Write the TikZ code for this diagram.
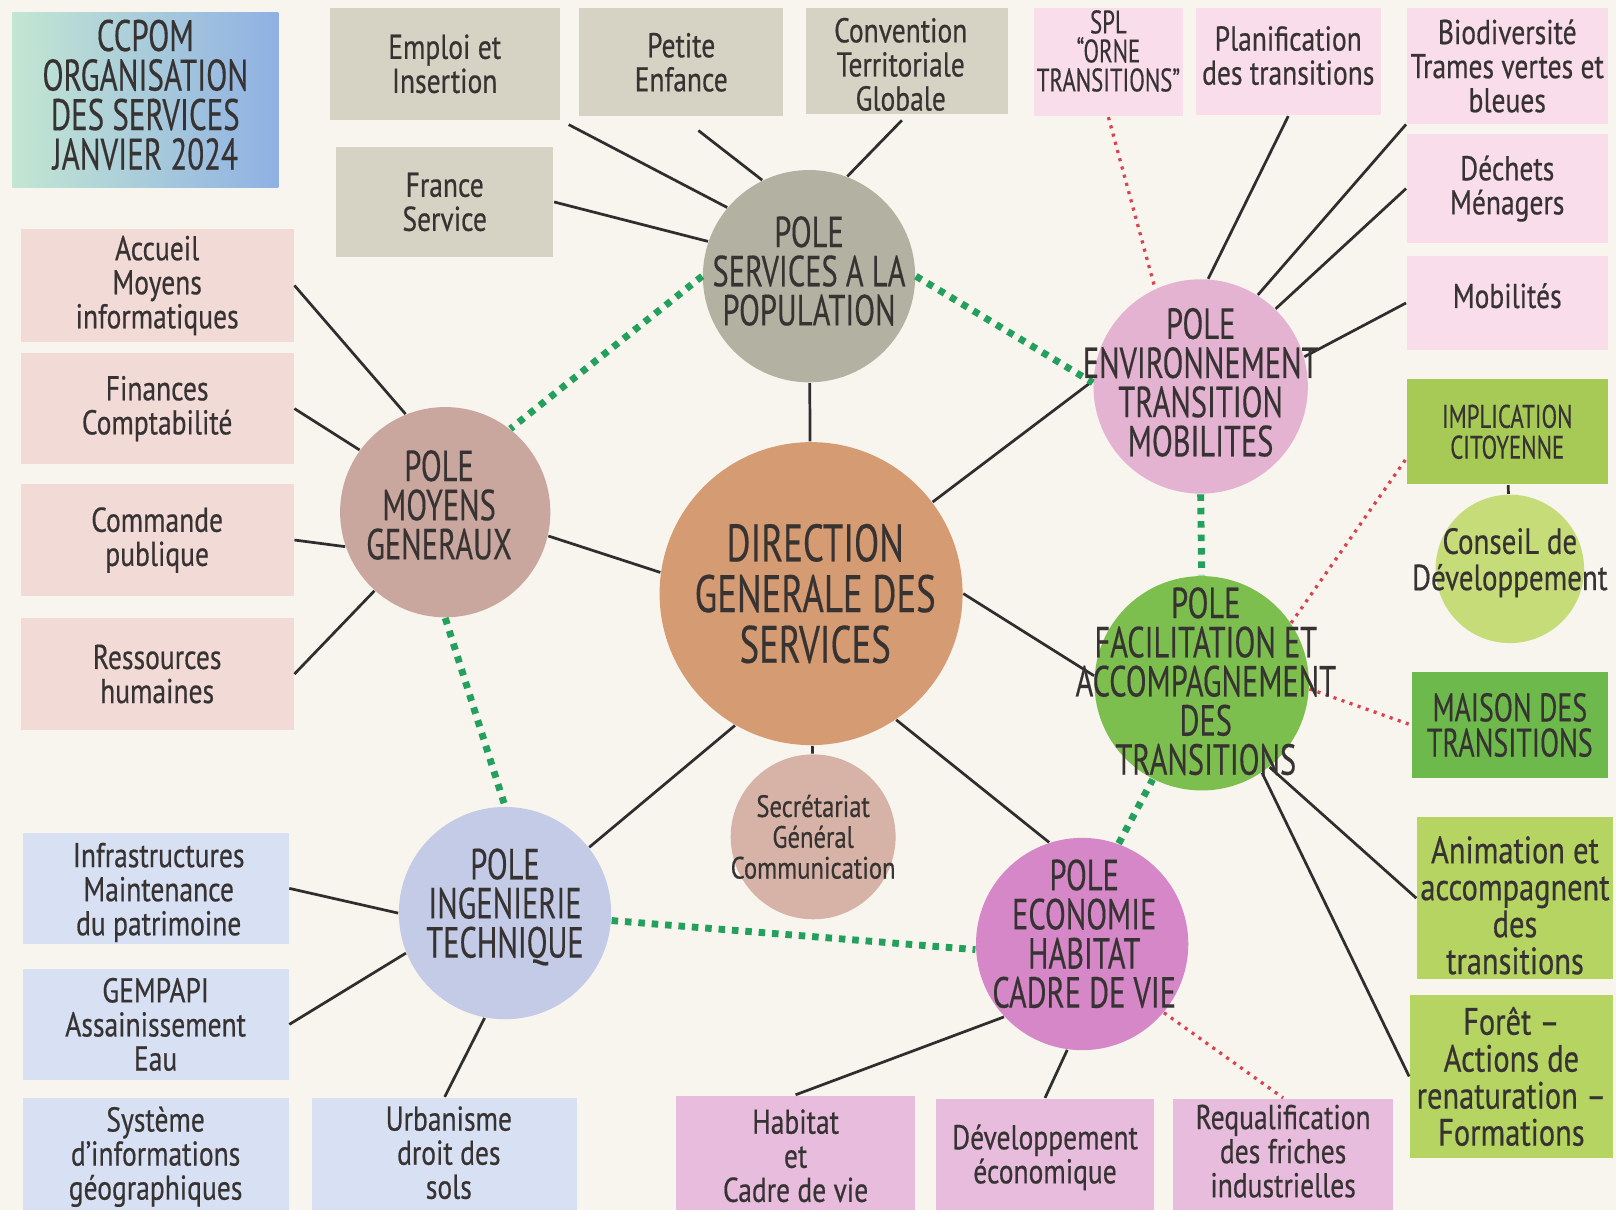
\documentclass[tikz,border=0pt]{standalone}
\usepackage{fontspec}
\setmainfont{PT Sans}[FakeStretch=0.8,FakeBold=0.5]
\newfontfamily\capf{PT Sans}[FakeStretch=0.7,FakeBold=0.3]
\usetikzlibrary{calc}
\definecolor{bg}{HTML}{F8F4EE}
\definecolor{titleL}{HTML}{C3E6D3}
\definecolor{titleR}{HTML}{8FB1E3}
\definecolor{grayb}{HTML}{D6D3C5}
\definecolor{servC}{HTML}{B3B1A1}
\definecolor{pinkb}{HTML}{FADDEB}
\definecolor{envC}{HTML}{E4B3D2}
\definecolor{salmb}{HTML}{F2DBD7}
\definecolor{moyC}{HTML}{C9A79F}
\definecolor{dirC}{HTML}{D59B72}
\definecolor{secC}{HTML}{D7B3A7}
\definecolor{blueb}{HTML}{D8E0F3}
\definecolor{ingC}{HTML}{C4CBE7}
\definecolor{ecoC}{HTML}{D587C8}
\definecolor{magb}{HTML}{E8BCDD}
\definecolor{facC}{HTML}{7DBF4F}
\definecolor{implC}{HTML}{A7CA57}
\definecolor{consC}{HTML}{C6DC79}
\definecolor{maisC}{HTML}{6DB94B}
\definecolor{anib}{HTML}{B6D461}
\definecolor{txt}{HTML}{373333}
\definecolor{lineC}{HTML}{2E2E2E}
\definecolor{dotG}{HTML}{22A05C}
\definecolor{dotR}{HTML}{D9424F}
\newdimen\unitpx \unitpx=0.01cm
\tikzset{
 conn/.style={draw=lineC, line width=0.75pt},
 gdot/.style={draw=dotG, line width=1.9pt, dash pattern=on 1.8pt off 1.9pt},
 rdot/.style={draw=dotR, line width=0.9pt, dash pattern=on 0.85pt off 1.5pt},
 box/.style={rectangle, inner sep=0pt, align=center, text=txt, font=\fontsize{9.5}{9.4}\selectfont},
 btext/.style={inner sep=0pt, align=center, text=txt, font=\fontsize{9.5}{9.4}\selectfont},
 circ/.style={circle, inner sep=0pt},
 ctext/.style={align=center, text=txt, inner sep=0pt, font=\capf\fontsize{12}{10.8}\selectfont},
}
\begin{document}
\begin{tikzpicture}[x=0.01cm,y=-0.01cm]
\fill[bg] (0,0) rectangle (1568,1174);
\useasboundingbox (0,0) rectangle (1568,1174);
\clip (0,0) rectangle (1568,1174);

% title
\node[box, left color=titleL, right color=titleR, minimum width=258\unitpx, minimum height=170\unitpx] (title) at (141,97) {};
\node[ctext, font=\capf\fontsize{12.2}{10.9}\selectfont] (ttitle) at ($(title)+(0,-5)$) {CCPOM\\ORGANISATION\\DES SERVICES\\JANVIER 2024};

% grey boxes
\node[box, fill=grayb, minimum width=223\unitpx, minimum height=108\unitpx] (emploi) at (431.5,62) {Emploi et\\Insertion};
\node[box, fill=grayb, minimum width=198\unitpx, minimum height=105\unitpx] (petite) at (661,60.5) {Petite\\Enfance};
\node[box, fill=grayb, minimum width=196\unitpx, minimum height=103\unitpx] (conv) at (880,59.5) {};
\node[btext] (tconv) at ($(conv)+(-6,3)$) {Convention\\Territoriale\\Globale};
\node[box, fill=grayb, minimum width=211\unitpx, minimum height=106\unitpx] (france) at (431.5,196) {France\\Service};

% pink boxes
\node[box, fill=pinkb, minimum width=145\unitpx, minimum height=105\unitpx] (spl) at (1075.5,60.5) {};
\node[ctext, font=\capf\fontsize{9}{8}\selectfont] (tspl) at ($(spl)+(0,-11)$) {SPL\\“ORNE\\TRANSITIONS”};
\node[box, fill=pinkb, minimum width=180\unitpx, minimum height=104\unitpx] (plan) at (1250,60) {};
\node[btext] (tplan) at ($(plan)+(0,-6)$) {Planification\\des transitions};
\node[box, fill=pinkb, minimum width=195\unitpx, minimum height=112\unitpx] (bio) at (1462.5,64) {Biodiversité\\Trames vertes et\\bleues};
\node[box, fill=pinkb, minimum width=195\unitpx, minimum height=106\unitpx] (dech) at (1462.5,183) {Déchets\\Ménagers};
\node[box, fill=pinkb, minimum width=195\unitpx, minimum height=92\unitpx] (mob) at (1462.5,294) {};
\node[btext] (tmob) at ($(mob)+(0,-7)$) {Mobilités};

% green boxes
\node[box, fill=implC, minimum width=195\unitpx, minimum height=102\unitpx, font=\capf\fontsize{9}{8.5}\selectfont] (impl) at (1462.5,419) {IMPLICATION\\CITOYENNE};
\node[circ, fill=consC, minimum size=144\unitpx] (cons) at (1465,552) {};
\node[box, fill=maisC, minimum width=190\unitpx, minimum height=103\unitpx, font=\capf\fontsize{11}{9.7}\selectfont] (mais) at (1465,703.5) {MAISON DES\\TRANSITIONS};
\node[box, fill=anib, minimum width=190\unitpx, minimum height=157\unitpx] (anim) at (1470,871.5) {};
\node[btext, font=\fontsize{10.5}{10.2}\selectfont] (tanim) at ($(anim)+(0,7)$) {Animation et\\accompagnent\\des\\transitions};
\node[box, fill=anib, minimum width=197\unitpx, minimum height=159\unitpx, font=\fontsize{10.5}{10.2}\selectfont] (foret) at (1466.5,1044.5) {Forêt –\\Actions de\\renaturation –\\Formations};

% left salmon boxes
\node[box, fill=salmb, minimum width=265\unitpx, minimum height=110\unitpx] (accueil) at (152.5,277) {Accueil\\Moyens\\informatiques};
\node[box, fill=salmb, minimum width=265\unitpx, minimum height=107\unitpx] (fin) at (152.5,396.5) {Finances\\Comptabilité};
\node[box, fill=salmb, minimum width=265\unitpx, minimum height=108\unitpx] (comm) at (152.5,524) {Commande\\publique};
\node[box, fill=salmb, minimum width=265\unitpx, minimum height=108\unitpx] (ress) at (152.5,654) {Ressources\\humaines};

% blue boxes
\node[box, fill=blueb, minimum width=258\unitpx, minimum height=108\unitpx] (infra) at (151,862) {};
\node[btext] (tinfra) at ($(infra)+(3,4)$) {Infrastructures\\Maintenance\\du patrimoine};
\node[box, fill=blueb, minimum width=258\unitpx, minimum height=108\unitpx] (gemp) at (151,994) {GEMPAPI\\Assainissement\\Eau};
\node[box, fill=blueb, minimum width=258\unitpx, minimum height=115\unitpx] (sig) at (151,1122.5) {Système\\d’informations\\géographiques};
\node[box, fill=blueb, minimum width=257\unitpx, minimum height=115\unitpx] (urb) at (431.5,1122.5) {};
\node[btext] (turb) at ($(urb)+(4,-4)$) {Urbanisme\\droit des\\sols};

% magenta boxes
\node[box, fill=magb, minimum width=232\unitpx, minimum height=117\unitpx] (hab) at (772,1121.5) {Habitat\\et\\Cadre de vie};
\node[box, fill=magb, minimum width=212\unitpx, minimum height=114\unitpx] (dev) at (1014,1123) {Développement\\économique};
\node[box, fill=magb, minimum width=214\unitpx, minimum height=114\unitpx] (req) at (1245,1123) {};
\node[btext] (treq) at ($(req)+(0,-6)$) {Requalification\\des friches\\industrielles};

% circles
\node[circ, fill=servC, minimum size=206\unitpx] (S) at (785,268) {};
\node[circ, fill=envC, minimum size=208\unitpx] (E) at (1165,375) {};
\node[circ, fill=moyC, minimum size=204\unitpx] (M) at (432,497) {};
\node[circ, fill=dirC, minimum size=294\unitpx] (D) at (787,576) {};
\node[circ, fill=secC, minimum size=160\unitpx] (sec) at (789,812) {};
\node[circ, fill=facC, minimum size=208\unitpx] (F) at (1166,663) {};
\node[circ, fill=ingC, minimum size=206\unitpx] (I) at (490,886) {};
\node[circ, fill=ecoC, minimum size=206\unitpx] (Ec) at (1050,916) {};

% solid connectors
\draw[conn, shorten <=2.6pt] (emploi.south east) -- (S.140);
\draw[conn, shorten <=6pt] (petite.south) -- (S.116);
\draw[conn, shorten <=2pt] (conv.south) -- (S.69);
\draw[conn] (france.east) -- (S.161);
\draw[conn] (S) -- (D);
\draw[conn] (accueil.east) -- (M.112);
\draw[conn] (fin.east) -- (M.144);
\draw[conn] (comm.east) -- (M.199);
\draw[conn] (ress.east) -- (M.228);
\draw[conn] (M.-13) -- (D.172);
\draw[conn] (D.37) -- (E.177);
\draw[conn] (D.0) -- (F.176);
\draw[conn] (D.-56) -- (Ec.108);
\draw[conn] (D.240) -- (I.38);
\draw[conn] (D) -- (sec);
\draw[conn] (infra.east) -- (I.180);
\draw[conn] (gemp.east) -- (I.202);
\draw[conn] (urb.north) -- (I.259);
\draw[conn] (hab.north) -- (Ec.223);
\draw[conn] (dev.north) -- (Ec.262);
\draw[conn] (plan.south) -- (E.86);
\draw[conn] (bio.south west) -- (E.58);
\draw[conn] (dech.west) -- (E.46);
\draw[conn] (mob.west) -- (E.16);
\draw[conn] (F.-51) -- (anim.west);
\draw[conn] (F.-56) -- (foret.west);
\draw[conn] (impl) -- (cons);

% green dotted links
\draw[gdot] (S.180) -- (M.52);
\draw[gdot] (S.0) -- (E.178);
\draw[gdot] (M.270) -- (I.90);
\draw[gdot] (I.-4) -- (Ec.183);
\draw[gdot] (Ec.70) -- (F.243);
\draw[gdot] (E.south) -- (F.north);

% red dotted links
\draw[rdot] (spl.south) -- (E.115);
\draw[rdot] (F.34) -- (impl.195);
\draw[rdot] (F.-3) -- (mais.west);
\draw[rdot] (Ec.-40) -- (req.north);

% circle texts
\node[ctext] (tS) at ($(S)+(0,-5)$) {POLE\\SERVICES A LA\\POPULATION};
\node[ctext] (tE) at ($(E)+(0,-4)$) {POLE\\ENVIRONNEMENT\\TRANSITION\\MOBILITES};
\node[ctext] (tM) at ($(M)+(-6,-7)$) {POLE\\MOYENS\\GENERAUX};
\node[ctext, font=\capf\fontsize{14.5}{14}\selectfont] (tD) at ($(D)+(4,0)$) {DIRECTION\\GENERALE DES\\SERVICES};
\node[ctext, font=\fontsize{8.5}{8.5}\selectfont] (tsec) at (sec) {Secrétariat\\Général\\Communication};
\node[ctext] (tF) at ($(F)+(4,-2)$) {POLE\\FACILITATION ET\\ACCOMPAGNEMENT\\DES\\TRANSITIONS};
\node[ctext] (tI) at ($(I)+(0,-6)$) {POLE\\INGENIERIE\\TECHNIQUE};
\node[ctext] (tEc) at ($(Ec)+(2,-10)$) {POLE\\ECONOMIE\\HABITAT\\CADRE DE VIE};
\node[ctext, font=\fontsize{10}{10}\selectfont] (tcons) at ($(cons)+(0,-6)$) {ConseiL de\\Développement};
\end{tikzpicture}
\end{document}
